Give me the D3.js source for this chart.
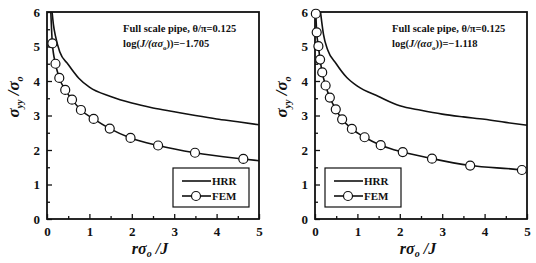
<!DOCTYPE html>
<html>
<head>
<meta charset="utf-8">
<script src="https://cdn.jsdelivr.net/npm/d3@7"></script>
<style>
  body { margin: 0; background: #fff; }
  svg text { font-family: "Liberation Serif", "Times New Roman", serif; font-weight: bold; fill: #111; }
</style>
</head>
<body>
<div id="svg-area"></div>
<script>
// values
var x_ticks = [0, 1, 2, 3, 4, 5];
var y_ticks = [0, 1, 2, 3, 4, 5, 6];

var hrr_left_x = [0.12, 0.15, 0.2, 0.3, 0.5, 0.75, 1, 1.5, 2, 2.5, 3, 3.5, 4, 4.5, 5];
var hrr_left_y = [6.0, 5.65, 5.3, 4.85, 4.48, 4.08, 3.82, 3.55, 3.36, 3.22, 3.11, 3.0, 2.9, 2.82, 2.73];
var fem_left_x = [0.09, 0.126, 0.2, 0.29, 0.43, 0.59, 0.8, 1.1, 1.48, 1.97, 2.62, 3.49, 4.63, 5];
var fem_left_y = [6.0, 5.09, 4.5, 4.09, 3.74, 3.46, 3.16, 2.9, 2.62, 2.35, 2.13, 1.92, 1.74, 1.69];
var fem_left_mark = [false, true, true, true, true, true, true, true, true, true, true, true, true, false];

var hrr_right_x = [0.13, 0.16, 0.2, 0.3, 0.5, 0.75, 1, 1.5, 2, 2.5, 3, 3.5, 4, 4.5, 5];
var hrr_right_y = [6.0, 5.7, 5.35, 4.9, 4.5, 4.1, 3.85, 3.55, 3.28, 3.15, 3.04, 2.96, 2.89, 2.8, 2.72];
var fem_right_x = [0.02, 0.04, 0.08, 0.12, 0.17, 0.25, 0.35, 0.49, 0.64, 0.87, 1.17, 1.55, 2.07, 2.76, 3.66, 4.88, 5];
var fem_right_y = [5.95, 5.41, 5.01, 4.62, 4.25, 3.87, 3.52, 3.18, 2.89, 2.61, 2.37, 2.14, 1.94, 1.75, 1.55, 1.42, 1.4];
var fem_right_mark = [true, true, true, true, true, true, true, true, true, true, true, true, true, true, true, true, false];

var panels = [
  { left: 47, hrr_x: hrr_left_x, hrr_y: hrr_left_y, fem_x: fem_left_x, fem_y: fem_left_y, mark: fem_left_mark,
    note1: 'Full scale pipe, θ/π=0.125', note2: '−1.705', legend_x: 126 },
  { left: 315, hrr_x: hrr_right_x, hrr_y: hrr_right_y, fem_x: fem_right_x, fem_y: fem_right_y, mark: fem_right_mark,
    note1: 'Full scale pipe, θ/π=0.125', note2: '−1.118', legend_x: 10 }
];

var svg = d3.select('#svg-area')
  .append('svg')
  .attr('width', 536)
  .attr('height', 263);

var plot_width = 212,
    plot_height = 207,
    plot_top = 12;

var draw_panel = function(p, idx) {
  var g = svg.append('g')
    .attr('transform', 'translate(' + p.left + ', ' + plot_top + ')');

  var x = d3.scaleLinear().domain([0, 5]).range([0, plot_width]);
  var y = d3.scaleLinear().domain([0, 6]).range([plot_height, 0]);

  g.append('clipPath').attr('id', 'clip' + idx)
    .append('rect').attr('width', plot_width).attr('height', plot_height);

  // minor ticks (inward)
  var x_minor = d3.range(0.5, 5, 1);
  var y_minor = d3.range(0.5, 6, 1);

  var x_axis = d3.axisBottom(x).tickValues(x_ticks).tickSizeInner(-5).tickSizeOuter(0).tickPadding(8).tickFormat(d3.format('d'));
  var y_axis = d3.axisLeft(y).tickValues(y_ticks).tickSizeInner(-5).tickSizeOuter(0).tickPadding(7).tickFormat(d3.format('d'));

  var gx = g.append('g').attr('transform', 'translate(0,' + plot_height + ')').call(x_axis);
  var gy = g.append('g').call(y_axis);
  g.append('g').attr('transform', 'translate(0,' + plot_height + ')')
    .call(d3.axisBottom(x).tickValues(x_minor).tickSize(-3).tickFormat(''))
    .select('.domain').remove();
  g.append('g')
    .call(d3.axisLeft(y).tickValues(y_minor).tickSize(-3).tickFormat(''))
    .select('.domain').remove();

  g.selectAll('.tick line').attr('stroke', '#111').attr('stroke-width', 1.3);
  g.selectAll('.domain').remove();
  gx.selectAll('text').attr('font-size', '13px').style('font-family', '"Liberation Serif", serif').style('font-weight', 'bold');
  gy.selectAll('text').attr('font-size', '13px').style('font-family', '"Liberation Serif", serif').style('font-weight', 'bold');

  // frame
  g.append('rect')
    .attr('width', plot_width)
    .attr('height', plot_height)
    .attr('fill', 'none')
    .attr('stroke', '#111')
    .attr('stroke-width', 1.8);

  var line = d3.line().x(d => x(d[0])).y(d => y(d[1])).curve(d3.curveMonotoneX);

  var hrr = d3.zip(p.hrr_x, p.hrr_y);
  var fem = d3.zip(p.fem_x, p.fem_y, p.mark);

  var curves = g.append('g').attr('clip-path', 'url(#clip' + idx + ')');
  curves.append('path').datum(hrr)
    .attr('d', line)
    .attr('fill', 'none').attr('stroke', '#111').attr('stroke-width', 1.6);
  curves.append('path').datum(fem)
    .attr('d', line)
    .attr('fill', 'none').attr('stroke', '#111').attr('stroke-width', 1.6);

  g.append('g').selectAll('circle')
    .data(fem.filter(d => d[2]))
    .enter()
    .append('circle')
    .attr('cx', d => x(d[0]))
    .attr('cy', d => y(d[1]))
    .attr('r', 4.5)
    .attr('fill', '#fff')
    .attr('stroke', '#111')
    .attr('stroke-width', 1.2);

  // annotation
  var note = g.append('g').attr('transform', 'translate(' + (idx == 0 ? 76 : 77) + ', 20)');
  note.append('text').attr('font-size', '10.5px').text(p.note1);
  var t2 = note.append('text').attr('y', 15).attr('font-size', '10.5px');
  t2.append('tspan').text('log(');
  t2.append('tspan').attr('font-style', 'italic').text('J/(ασ');
  t2.append('tspan').attr('font-size', '7px').attr('dy', 3).text('o');
  t2.append('tspan').attr('dy', -3).text('))=' + p.note2);

  // legend
  var lg = g.append('g').attr('transform', 'translate(' + p.legend_x + ', 156)');
  lg.append('rect')
    .attr('width', 76).attr('height', 39)
    .attr('fill', '#fff').attr('stroke', '#111').attr('stroke-width', 1.2);
  lg.append('line').attr('x1', 9).attr('x2', 38).attr('y1', 13).attr('y2', 13)
    .attr('stroke', '#111').attr('stroke-width', 1.6);
  lg.append('text').attr('x', 39).attr('y', 17).attr('font-size', '11px').text('HRR');
  lg.append('line').attr('x1', 9).attr('x2', 38).attr('y1', 28).attr('y2', 28)
    .attr('stroke', '#111').attr('stroke-width', 1.6);
  lg.append('circle').attr('cx', 23).attr('cy', 28).attr('r', 4.5)
    .attr('fill', '#fff').attr('stroke', '#111').attr('stroke-width', 1.2);
  lg.append('text').attr('x', 39).attr('y', 32).attr('font-size', '11px').text('FEM');

  // axis titles
  var xl = g.append('text')
    .attr('x', plot_width / 2 - 3)
    .attr('y', plot_height + 35)
    .attr('text-anchor', 'middle')
    .attr('font-size', '16px')
    .attr('font-style', 'italic');
  xl.append('tspan').text('rσ');
  xl.append('tspan').attr('font-size', '10px').attr('dy', 3).text('o');
  xl.append('tspan').attr('dy', -3).text(' /J');

  var yl = g.append('text')
    .attr('transform', 'translate(' + (-28) + ',' + 85 + ') rotate(-90)')
    .attr('text-anchor', 'middle')
    .attr('font-size', '17px')
    .attr('font-style', 'italic');
  yl.append('tspan').text('σ');
  yl.append('tspan').attr('font-size', '10px').attr('dy', 4).text('yy');
  yl.append('tspan').attr('dy', -4).text(' /σ');
  yl.append('tspan').attr('font-size', '10px').attr('dy', 4).text('o');
};

panels.forEach(draw_panel);
</script>
</body>
</html>
